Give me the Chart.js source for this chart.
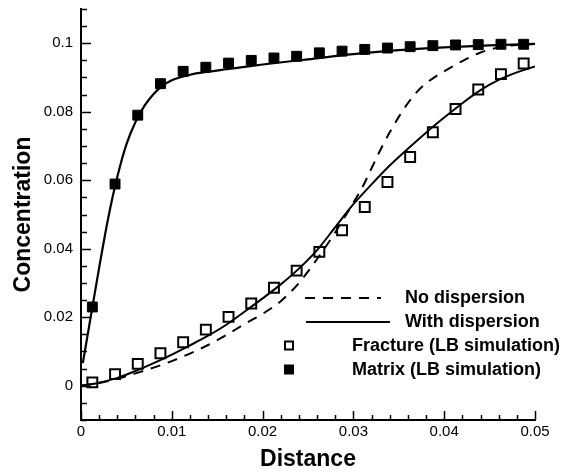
<!DOCTYPE html>
<html>
<head>
<meta charset="utf-8">
<script src="https://cdn.jsdelivr.net/npm/chart.js@4.4.0/dist/chart.umd.min.js"></script>
<style>
  html, body { margin: 0; padding: 0; background: #fff; }
  #wrap { width: 567px; height: 474px; }
</style>
</head>
<body>
<div id="wrap"><canvas id="chart" width="567" height="474"></canvas></div>
<script>
// Axis ticks
const xTickValues = [0, 0.01, 0.02, 0.03, 0.04, 0.05];
const xTickLabels = ['0', '0.01', '0.02', '0.03', '0.04', '0.05'];
const yTickValues = [0, 0.02, 0.04, 0.06, 0.08, 0.1];
const yTickLabels = ['0', '0.02', '0.04', '0.06', '0.08', '0.1'];

// LB simulation points
const lbDistance = [0.00125, 0.00375, 0.00625, 0.00875, 0.01125, 0.01375, 0.01625, 0.01875, 0.02125, 0.02375,
                    0.02625, 0.02875, 0.03125, 0.03375, 0.03625, 0.03875, 0.04125, 0.04375, 0.04625, 0.04875];
const fractureLB = [0.0010, 0.0034, 0.0064, 0.0095, 0.0127, 0.0164, 0.0201, 0.0240, 0.0286, 0.0336,
                    0.0391, 0.0454, 0.0522, 0.0595, 0.0668, 0.0740, 0.0808, 0.0865, 0.0910, 0.0941];
const matrixLB = [0.0230, 0.0589, 0.0790, 0.0882, 0.0918, 0.0930, 0.0942, 0.0950, 0.0957, 0.0962,
                  0.0972, 0.0977, 0.0982, 0.0986, 0.0990, 0.0993, 0.0995, 0.0996, 0.0997, 0.0997];

// Analytical curves
const matrixCurveX = [0.0002, 0.001, 0.002, 0.003, 0.004, 0.005, 0.006, 0.007, 0.008, 0.009, 0.010,
                      0.012, 0.014, 0.016, 0.018, 0.020, 0.025, 0.030, 0.035, 0.040, 0.045, 0.050];
const matrixCurveY = [0.0066, 0.0190, 0.0345, 0.0490, 0.0610, 0.0705, 0.0770, 0.0818, 0.0852, 0.0876, 0.0892,
                      0.0908, 0.0917, 0.0924, 0.0931, 0.0938, 0.0953, 0.0968, 0.0980, 0.0988, 0.0994, 0.0998];

const fractureCurveX = [0, 0.002, 0.004, 0.006, 0.008, 0.010, 0.012, 0.014, 0.016, 0.018, 0.020, 0.022, 0.024,
                        0.026, 0.028, 0.030, 0.032, 0.034, 0.036, 0.038, 0.040, 0.042, 0.044, 0.046, 0.048, 0.050];
const fractureCurveY = [0, 0.0009, 0.0023, 0.0043, 0.0066, 0.0091, 0.0118, 0.0146, 0.0178, 0.0216, 0.0255, 0.0296, 0.0342,
                        0.0396, 0.0463, 0.0530, 0.0588, 0.0643, 0.0692, 0.0739, 0.0783, 0.0825, 0.0863, 0.0893, 0.0915, 0.0932];

const noDispX = [0, 0.002, 0.004, 0.006, 0.008, 0.010, 0.012, 0.014, 0.016, 0.018, 0.020, 0.022, 0.024, 0.026, 0.028,
                 0.030, 0.031, 0.032, 0.033, 0.034, 0.035, 0.036, 0.037, 0.038, 0.039, 0.040, 0.042, 0.044, 0.046, 0.048, 0.050];
const noDispY = [0, 0.0008, 0.0020, 0.0036, 0.0053, 0.0072, 0.0094, 0.0119, 0.0148, 0.0180, 0.0210, 0.0247, 0.0300, 0.0370, 0.0448,
                 0.0535, 0.0580, 0.0635, 0.0690, 0.0740, 0.0785, 0.0825, 0.0858, 0.0883, 0.0902, 0.0918, 0.0948, 0.0973, 0.0988, 0.0995, 0.0998];

const toPoints = (xs, ys) => xs.map((x, i) => ({ x: x, y: ys[i] }));

Chart.defaults.font.family = '"Liberation Sans", Arial, Helvetica, sans-serif';
Chart.defaults.color = '#000';

// ticks pointing inward, major + minor
const inwardTicks = {
    id: 'inwardTicks',
    afterDraw(chart) {
        const ctx = chart.ctx;
        const xs = chart.scales.x, ys = chart.scales.y;
        const a = chart.chartArea;
        ctx.save();
        ctx.strokeStyle = '#000';
        ctx.lineWidth = 1.5;
        ctx.beginPath();
        for (let i = 0; i <= 25; i++) {
            const v = i * 0.002;
            const px = Math.round(xs.getPixelForValue(v)) + 0.5;
            const len = (i % 5 === 0) ? 9 : 5;
            ctx.moveTo(px, a.bottom);
            ctx.lineTo(px, a.bottom - len);
        }
        for (let i = 0; i <= 24; i++) {
            const v = -0.01 + i * 0.005;
            const py = Math.round(ys.getPixelForValue(v)) + 0.5;
            const len = ((i - 2) % 4 === 0) ? 10 : 6;
            ctx.moveTo(a.left, py);
            ctx.lineTo(a.left + len, py);
        }
        ctx.stroke();
        ctx.restore();
    }
};

// legend drawn inside the plot
const innerLegend = {
    id: 'innerLegend',
    afterDraw(chart) {
        const ctx = chart.ctx;
        ctx.save();
        ctx.strokeStyle = '#000';
        ctx.fillStyle = '#000';
        ctx.lineWidth = 2;
        ctx.setLineDash([10, 8]);
        ctx.beginPath(); ctx.moveTo(305, 298); ctx.lineTo(381, 298); ctx.stroke();
        ctx.setLineDash([]);
        ctx.beginPath(); ctx.moveTo(306, 322); ctx.lineTo(390, 322); ctx.stroke();
        ctx.strokeRect(285, 341.5, 8, 8);
        ctx.fillRect(284, 364.5, 10, 10);
        ctx.font = 'bold 18px "Liberation Sans", Arial, sans-serif';
        ctx.textBaseline = 'middle';
        ctx.fillText('No dispersion', 405, 298);
        ctx.fillText('With dispersion', 405, 322);
        ctx.fillText('Fracture (LB simulation)', 352, 346);
        ctx.fillText('Matrix (LB simulation)', 352, 370);
        ctx.restore();
    }
};

new Chart(document.getElementById('chart').getContext('2d'), {
    type: 'scatter',
    data: {
        datasets: [
            {
                label: 'No dispersion',
                data: toPoints(noDispX, noDispY),
                showLine: true,
                borderColor: '#000',
                borderWidth: 2,
                borderDash: [10, 8],
                pointRadius: 0,
                cubicInterpolationMode: 'monotone'
            },
            {
                label: 'With dispersion (fracture)',
                data: toPoints(fractureCurveX, fractureCurveY),
                showLine: true,
                borderColor: '#000',
                borderWidth: 2,
                pointRadius: 0,
                cubicInterpolationMode: 'monotone'
            },
            {
                label: 'With dispersion (matrix)',
                data: toPoints(matrixCurveX, matrixCurveY),
                showLine: true,
                borderColor: '#000',
                borderWidth: 2.2,
                pointRadius: 0,
                cubicInterpolationMode: 'monotone'
            },
            {
                label: 'Fracture (LB simulation)',
                data: toPoints(lbDistance, fractureLB),
                pointStyle: 'rect',
                pointRadius: 7,
                pointBackgroundColor: '#fff',
                pointBorderColor: '#000',
                pointBorderWidth: 2
            },
            {
                label: 'Matrix (LB simulation)',
                data: toPoints(lbDistance, matrixLB),
                pointStyle: 'rect',
                pointRadius: 7,
                pointBackgroundColor: '#000',
                pointBorderColor: '#000',
                pointBorderWidth: 1
            }
        ]
    },
    options: {
        responsive: false,
        animation: false,
        devicePixelRatio: 1,
        layout: { padding: { top: 7, right: 32, left: 0, bottom: 0 } },
        plugins: {
            legend: { display: false },
            tooltip: { enabled: false }
        },
        scales: {
            x: {
                type: 'linear',
                min: 0,
                max: 0.05,
                afterBuildTicks: scale => { scale.ticks = xTickValues.map(v => ({ value: v })); },
                afterFit: scale => {
                    scale.height = 54;
                    scale.paddingLeft = 0;
                    scale.paddingRight = 0;
                },
                grid: { display: false, drawTicks: false },
                border: { display: true, color: '#000', width: 2 },
                ticks: {
                    padding: 3,
                    maxRotation: 0,
                    font: { size: 15 },
                    color: '#000',
                    callback: (value, index) => xTickLabels[index]
                },
                title: {
                    display: true,
                    text: 'Distance',
                    color: '#000',
                    font: { size: 23, weight: 'bold' },
                    padding: { top: 0, bottom: 1 }
                }
            },
            y: {
                type: 'linear',
                min: -0.01,
                max: 0.11,
                afterBuildTicks: scale => { scale.ticks = yTickValues.map(v => ({ value: v })); },
                afterFit: scale => {
                    scale.width = 81;
                    scale.paddingTop = 0;
                    scale.paddingBottom = 0;
                },
                grid: { display: false, drawTicks: false },
                border: { display: true, color: '#000', width: 2 },
                ticks: {
                    padding: 8,
                    font: { size: 15 },
                    color: '#000',
                    callback: (value, index) => yTickLabels[index]
                },
                title: {
                    display: true,
                    text: 'Concentration',
                    color: '#000',
                    font: { size: 23, weight: 'bold' },
                    padding: { top: 10, bottom: 0 }
                }
            }
        }
    },
    plugins: [inwardTicks, innerLegend]
});
</script>
</body>
</html>
